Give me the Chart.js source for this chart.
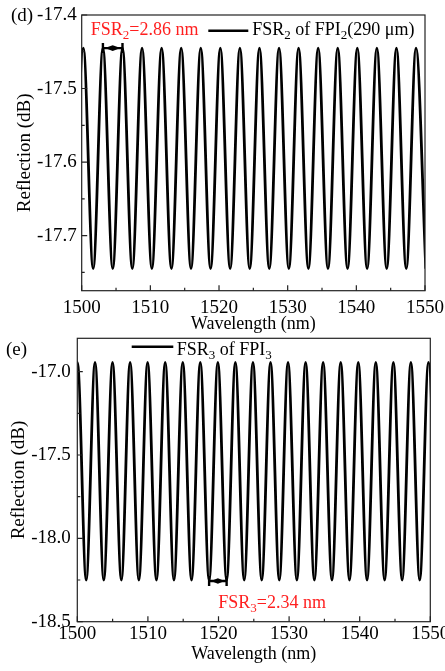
<!DOCTYPE html>
<html>
<head>
<meta charset="utf-8">
<script src="https://cdn.jsdelivr.net/npm/chart.js@4/dist/chart.umd.min.js"></script>
<style>
  html, body { margin: 0; padding: 0; background: #fff; width: 445px; height: 671px; overflow: hidden; }
  canvas { position: absolute; left: 0; }
  #cd { top: 0; }
  #ce { top: 335px; }
</style>
</head>
<body>
<canvas id="cd" width="445" height="335"></canvas>
<canvas id="ce" width="450" height="336"></canvas>
<script>
// x axis (shared)
const xTicks = [1500, 1510, 1520, 1530, 1540, 1550];
const xMinor = [1505, 1515, 1525, 1535, 1545];

// panel (d): FPI2 spectrum, peak / dip wavelengths
const dPeakNm = [1500.24, 1503.09, 1505.94, 1508.79, 1511.64, 1514.49, 1517.34, 1520.19, 1523.04,
  1525.89, 1528.74, 1531.59, 1534.44, 1537.29, 1540.14, 1542.99, 1545.84, 1548.69];
const dDipNm = [1498.82, 1501.67, 1504.52, 1507.37, 1510.22, 1513.07, 1515.92, 1518.77, 1521.62,
  1524.47, 1527.32, 1530.17, 1533.02, 1535.87, 1538.72, 1541.57, 1544.42, 1547.27, 1550.12];
const dPeakDb = -17.445;
const dDipDb = -17.745;
const dYTicks = [-17.4, -17.5, -17.6, -17.7];
const dYMinor = [-17.45, -17.55, -17.65, -17.75];
const dArrow = [1503.09, 1505.94, -17.445];

// panel (e): FPI3 spectrum
const ePeakNm = [1500.02, 1502.51, 1504.99, 1507.48, 1509.96, 1512.45, 1514.94, 1517.42, 1519.91,
  1522.39, 1524.88, 1527.37, 1529.85, 1532.34, 1534.82, 1537.31, 1539.80, 1542.28, 1544.77,
  1547.25, 1549.74];
const eDipNm = [1498.78, 1501.26, 1503.75, 1506.24, 1508.72, 1511.21, 1513.69, 1516.18, 1518.67,
  1521.15, 1523.64, 1526.12, 1528.61, 1531.10, 1533.58, 1536.07, 1538.55, 1541.04, 1543.53,
  1546.01, 1548.50, 1550.98];
const ePeakDb = -16.945;
const eDipDb = -18.25;
const eYTicks = [-17.0, -17.5, -18.0, -18.5];
const eYMinor = [-17.25, -17.75, -18.25];
const eArrow = [1518.67, 1521.15, -18.256];

const SERIF = '"Liberation Serif", "Times New Roman", serif';

function buildPoints(peaks, dips, hi, lo) {
  const pts = peaks.map(x => ({ x: x, y: hi })).concat(dips.map(x => ({ x: x, y: lo })));
  return pts.sort((a, b) => a.x - b.x);
}

// text with subscripts: parts like ['FSR', ['2'], ' of FPI']
function drawRich(ctx, parts, x, y, color) {
  ctx.save();
  ctx.fillStyle = color;
  ctx.textBaseline = 'alphabetic';
  ctx.textAlign = 'left';
  parts.forEach(p => {
    if (Array.isArray(p)) {
      ctx.font = '13px ' + SERIF;
      ctx.fillText(p[0], x, y + 4);
      x += ctx.measureText(p[0]).width;
    } else {
      ctx.font = '18px ' + SERIF;
      ctx.fillText(p, x, y);
      x += ctx.measureText(p).width;
    }
  });
  ctx.restore();
}

function decorPlugin(cfg) {
  return {
    id: 'decor',
    afterDatasetsDraw(chart) {
      const ctx = chart.ctx;
      const { left, right, top, bottom } = chart.chartArea;
      const xs = chart.scales.x, ys = chart.scales.y;
      ctx.save();

      // frame
      ctx.strokeStyle = '#222';
      ctx.lineWidth = 1.2;
      ctx.strokeRect(left, top, right - left, bottom - top);

      // inward ticks
      ctx.beginPath();
      xTicks.forEach(v => { const p = xs.getPixelForValue(v); ctx.moveTo(p, bottom); ctx.lineTo(p, bottom - 5.5); });
      xMinor.forEach(v => { const p = xs.getPixelForValue(v); ctx.moveTo(p, bottom); ctx.lineTo(p, bottom - 3); });
      cfg.yTicks.forEach(v => { const p = ys.getPixelForValue(v); ctx.moveTo(left, p); ctx.lineTo(left + 5.5, p); });
      cfg.yMinor.forEach(v => { const p = ys.getPixelForValue(v); ctx.moveTo(left, p); ctx.lineTo(left + 3, p); });
      ctx.stroke();

      // FSR arrow between two neighbouring extrema
      const x1 = xs.getPixelForValue(cfg.arrow[0]);
      const x2 = xs.getPixelForValue(cfg.arrow[1]);
      const ya = ys.getPixelForValue(cfg.arrow[2]);
      ctx.strokeStyle = '#000';
      ctx.lineWidth = 2.4;
      ctx.beginPath();
      ctx.moveTo(x1, ya - 5); ctx.lineTo(x1, ya + 5);
      ctx.moveTo(x2, ya - 5); ctx.lineTo(x2, ya + 5);
      ctx.moveTo(x1, ya); ctx.lineTo(x2, ya);
      ctx.stroke();
      const xm = (x1 + x2) / 2;
      ctx.fillStyle = '#000';
      ctx.beginPath();
      ctx.moveTo(x1 + 2, ya);
      ctx.lineTo(xm, ya - 2.8);
      ctx.lineTo(x2 - 2, ya);
      ctx.lineTo(xm, ya + 2.8);
      ctx.closePath();
      ctx.fill();

      // legend sample line
      ctx.lineWidth = 2.4;
      ctx.beginPath();
      ctx.moveTo(cfg.legend.x1, cfg.legend.y);
      ctx.lineTo(cfg.legend.x2, cfg.legend.y);
      ctx.stroke();
      drawRich(ctx, cfg.legend.text, cfg.legend.tx, cfg.legend.ty, '#000');

      // red FSR label
      drawRich(ctx, cfg.note.text, cfg.note.x, cfg.note.y, '#ff1f1f');

      // panel letter
      ctx.fillStyle = '#000';
      ctx.font = '19px ' + SERIF;
      ctx.textBaseline = 'alphabetic';
      ctx.textAlign = 'left';
      ctx.fillText(cfg.panel.text, cfg.panel.x, cfg.panel.y);
      ctx.restore();
    }
  };
}

function makeChart(id, points, yMin, yMax, yTicks, dims, cfg) {
  return new Chart(document.getElementById(id), {
    type: 'line',
    data: {
      datasets: [{
        data: points,
        borderColor: '#000',
        borderWidth: 2.8,
        pointRadius: 0,
        fill: false,
        cubicInterpolationMode: 'monotone'
      }]
    },
    options: {
      responsive: false,
      animation: false,
      events: [],
      layout: { padding: dims.padding },
      plugins: { legend: { display: false }, tooltip: { enabled: false } },
      scales: {
        x: {
          type: 'linear',
          min: 1500,
          max: 1550,
          afterBuildTicks: s => { s.ticks = xTicks.map(v => ({ value: v })); },
          afterFit: s => { s.height = dims.xHeight; s.paddingLeft = 0; s.paddingRight = 0; },
          grid: { display: false, drawTicks: false },
          border: { display: false },
          ticks: {
            padding: dims.xTickPad,
            color: '#000',
            font: { family: SERIF, size: 19 },
            maxRotation: 0,
            callback: v => String(v)
          },
          title: {
            display: true,
            text: 'Wavelength (nm)',
            color: '#000',
            font: { family: SERIF, size: 18 },
            padding: { top: 0, bottom: dims.xTitlePad }
          }
        },
        y: {
          min: yMin,
          max: yMax,
          afterBuildTicks: s => { s.ticks = yTicks.map(v => ({ value: v })); },
          afterFit: s => { s.width = dims.yWidth; s.paddingTop = 0; s.paddingBottom = 0; },
          grid: { display: false, drawTicks: false },
          border: { display: false },
          ticks: {
            padding: dims.yTickPad,
            color: '#000',
            font: { family: SERIF, size: 19 },
            callback: v => v.toFixed(1)
          },
          title: {
            display: true,
            text: 'Reflection (dB)',
            color: '#000',
            font: { family: SERIF, size: 19 },
            padding: { top: dims.yTitlePad, bottom: 0 }
          }
        }
      }
    },
    plugins: [decorPlugin(cfg)]
  });
}

makeChart('cd', buildPoints(dPeakNm, dDipNm, dPeakDb, dDipDb), -17.775, -17.4, dYTicks,
  { padding: { top: 15, right: 20, left: 0, bottom: 0 }, xHeight: 44.3, xTickPad: 5.9, xTitlePad: 0,
    yWidth: 81.7, yTickPad: 5, yTitlePad: 13.6 },
  {
    yTicks: dYTicks, yMinor: dYMinor, arrow: dArrow,
    legend: { x1: 208.3, x2: 248.3, y: 30.7, tx: 252.3, ty: 35,
      text: ['FSR', ['2'], ' of FPI', ['2'], '(290 μm)'] },
    note: { x: 90.7, y: 35, text: ['FSR', ['2'], '=2.86 nm'] },
    panel: { text: '(d)', x: 11, y: 21 }
  });

makeChart('ce', buildPoints(ePeakNm, eDipNm, ePeakDb, eDipDb), -18.5, -16.8, eYTicks,
  { padding: { top: 3.3, right: 19.7, left: 0, bottom: 0 }, xHeight: 49.3, xTickPad: 0.9, xTitlePad: 6.2,
    yWidth: 77.3, yTickPad: 6.5, yTitlePad: 7.6 },
  {
    yTicks: eYTicks, yMinor: eYMinor, arrow: eArrow,
    legend: { x1: 131.7, x2: 173.3, y: 11.7, tx: 176.7, ty: 20,
      text: ['FSR', ['3'], ' of FPI', ['3']] },
    note: { x: 218.3, y: 273, text: ['FSR', ['3'], '=2.34 nm'] },
    panel: { text: '(e)', x: 6, y: 20 }
  });
</script>
</body>
</html>
